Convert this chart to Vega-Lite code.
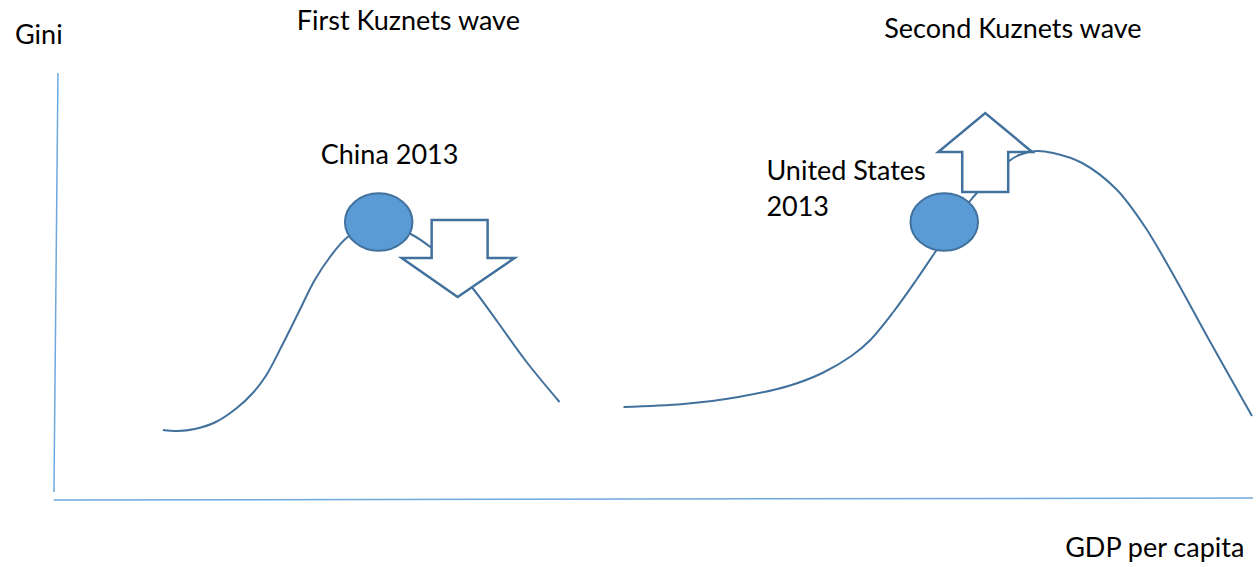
{
  "$schema": "https://vega.github.io/schema/vega-lite/v6.json",
  "width": 1256,
  "height": 567,
  "autosize": {"type": "fit", "contains": "padding"},
  "padding": 0,
  "background": "white",
  "config": {"view": {"stroke": null}},
  "datasets": {
    "axes": [
      {"x": 58, "y": 73, "x2": 54, "y2": 492},
      {"x": 54, "y": 500, "x2": 1254, "y2": 498}
    ],
    "curves": [
      {"series": "first", "i": 1, "x": 163, "y": 430},
      {"series": "first", "i": 2, "x": 178, "y": 431},
      {"series": "first", "i": 3, "x": 195, "y": 429},
      {"series": "first", "i": 4, "x": 216, "y": 422},
      {"series": "first", "i": 5, "x": 237, "y": 408},
      {"series": "first", "i": 6, "x": 253, "y": 393},
      {"series": "first", "i": 7, "x": 266, "y": 376},
      {"series": "first", "i": 8, "x": 282, "y": 346},
      {"series": "first", "i": 9, "x": 299, "y": 312},
      {"series": "first", "i": 10, "x": 315, "y": 280},
      {"series": "first", "i": 11, "x": 331, "y": 256},
      {"series": "first", "i": 12, "x": 348, "y": 237},
      {"series": "first", "i": 13, "x": 378, "y": 222},
      {"series": "first", "i": 14, "x": 411, "y": 234},
      {"series": "first", "i": 15, "x": 432, "y": 248},
      {"series": "first", "i": 16, "x": 452, "y": 266},
      {"series": "first", "i": 17, "x": 472, "y": 287},
      {"series": "first", "i": 18, "x": 498, "y": 322},
      {"series": "first", "i": 19, "x": 527, "y": 362},
      {"series": "first", "i": 20, "x": 560, "y": 402},
      {"series": "second", "i": 1, "x": 624, "y": 407},
      {"series": "second", "i": 2, "x": 684, "y": 404},
      {"series": "second", "i": 3, "x": 739, "y": 397},
      {"series": "second", "i": 4, "x": 789, "y": 386},
      {"series": "second", "i": 5, "x": 823, "y": 373},
      {"series": "second", "i": 6, "x": 852, "y": 356},
      {"series": "second", "i": 7, "x": 870, "y": 341},
      {"series": "second", "i": 8, "x": 894, "y": 312},
      {"series": "second", "i": 9, "x": 917, "y": 280},
      {"series": "second", "i": 10, "x": 936, "y": 252},
      {"series": "second", "i": 11, "x": 970, "y": 202},
      {"series": "second", "i": 12, "x": 990, "y": 180},
      {"series": "second", "i": 13, "x": 1010, "y": 161},
      {"series": "second", "i": 14, "x": 1020, "y": 155},
      {"series": "second", "i": 15, "x": 1037, "y": 151},
      {"series": "second", "i": 16, "x": 1054, "y": 153},
      {"series": "second", "i": 17, "x": 1083, "y": 163},
      {"series": "second", "i": 18, "x": 1117, "y": 189},
      {"series": "second", "i": 19, "x": 1146, "y": 227},
      {"series": "second", "i": 20, "x": 1176, "y": 278},
      {"series": "second", "i": 21, "x": 1209, "y": 338},
      {"series": "second", "i": 22, "x": 1253, "y": 416}
    ],
    "dots": [
      {"label": "China 2013", "x": 379, "y": 222},
      {"label": "United States 2013", "x": 945, "y": 222}
    ],
    "arrows": [
      {"arrow": "down", "i": 1, "x": 432, "y": 220},
      {"arrow": "down", "i": 2, "x": 488, "y": 220},
      {"arrow": "down", "i": 3, "x": 488, "y": 258},
      {"arrow": "down", "i": 4, "x": 515, "y": 258},
      {"arrow": "down", "i": 5, "x": 458, "y": 297},
      {"arrow": "down", "i": 6, "x": 402, "y": 258},
      {"arrow": "down", "i": 7, "x": 432, "y": 258},
      {"arrow": "up", "i": 1, "x": 963, "y": 192},
      {"arrow": "up", "i": 2, "x": 1009, "y": 192},
      {"arrow": "up", "i": 3, "x": 1009, "y": 152},
      {"arrow": "up", "i": 4, "x": 1033, "y": 152},
      {"arrow": "up", "i": 5, "x": 986, "y": 113},
      {"arrow": "up", "i": 6, "x": 939, "y": 152},
      {"arrow": "up", "i": 7, "x": 963, "y": 152}
    ],
    "labels": [
      {"text": "Gini", "x": 15, "y": 36},
      {"text": "First Kuznets wave", "x": 297, "y": 22},
      {"text": "Second Kuznets wave", "x": 885, "y": 30},
      {"text": "China 2013", "x": 321, "y": 156},
      {"text": "United States", "x": 767, "y": 172},
      {"text": "2013", "x": 767, "y": 208},
      {"text": "GDP per capita", "x": 1066, "y": 549}
    ]
  },
  "layer": [
    {
      "data": {"name": "axes"},
      "mark": {"type": "rule", "color": "#6FA8DC", "strokeWidth": 1.5},
      "encoding": {
        "x": {"field": "x", "type": "quantitative", "scale": {"domain": [0, 1256], "nice": false, "zero": false}, "axis": null},
        "y": {"field": "y", "type": "quantitative", "scale": {"domain": [0, 567], "reverse": true, "nice": false, "zero": false}, "axis": null},
        "x2": {"field": "x2"},
        "y2": {"field": "y2"}
      }
    },
    {
      "data": {"name": "curves"},
      "mark": {"type": "line", "interpolate": "catmull-rom", "color": "#41719C", "strokeWidth": 2},
      "encoding": {
        "x": {"field": "x", "type": "quantitative", "scale": {"domain": [0, 1256], "nice": false, "zero": false}, "axis": null},
        "y": {"field": "y", "type": "quantitative", "scale": {"domain": [0, 567], "reverse": true, "nice": false, "zero": false}, "axis": null},
        "detail": {"field": "series"},
        "order": {"field": "i", "type": "quantitative"}
      }
    },
    {
      "data": {"name": "dots"},
      "mark": {
        "type": "point",
        "shape": "M1,0 C1,0.471 0.552,0.853 0,0.853 C-0.552,0.853 -1,0.471 -1,0 C-1,-0.471 -0.552,-0.853 0,-0.853 C0.552,-0.853 1,-0.471 1,0 Z",
        "size": 4556,
        "filled": true,
        "fill": "#5B9BD5",
        "stroke": "#41719C",
        "strokeWidth": 2,
        "opacity": 1
      },
      "encoding": {
        "x": {"field": "x", "type": "quantitative", "scale": {"domain": [0, 1256], "nice": false, "zero": false}, "axis": null},
        "y": {"field": "y", "type": "quantitative", "scale": {"domain": [0, 567], "reverse": true, "nice": false, "zero": false}, "axis": null}
      }
    },
    {
      "data": {"name": "arrows"},
      "mark": {"type": "line", "interpolate": "linear-closed", "fill": "white", "stroke": "#41719C", "strokeWidth": 2.5, "strokeJoin": "miter"},
      "encoding": {
        "x": {"field": "x", "type": "quantitative", "scale": {"domain": [0, 1256], "nice": false, "zero": false}, "axis": null},
        "y": {"field": "y", "type": "quantitative", "scale": {"domain": [0, 567], "reverse": true, "nice": false, "zero": false}, "axis": null},
        "detail": {"field": "arrow"},
        "order": {"field": "i", "type": "quantitative"}
      }
    },
    {
      "data": {"name": "labels"},
      "mark": {"type": "text", "align": "left", "baseline": "middle", "font": "Lato", "fontSize": 27, "color": "#000000"},
      "encoding": {
        "x": {"field": "x", "type": "quantitative", "scale": {"domain": [0, 1256], "nice": false, "zero": false}, "axis": null},
        "y": {"field": "y", "type": "quantitative", "scale": {"domain": [0, 567], "reverse": true, "nice": false, "zero": false}, "axis": null},
        "text": {"field": "text"}
      }
    }
  ]
}
